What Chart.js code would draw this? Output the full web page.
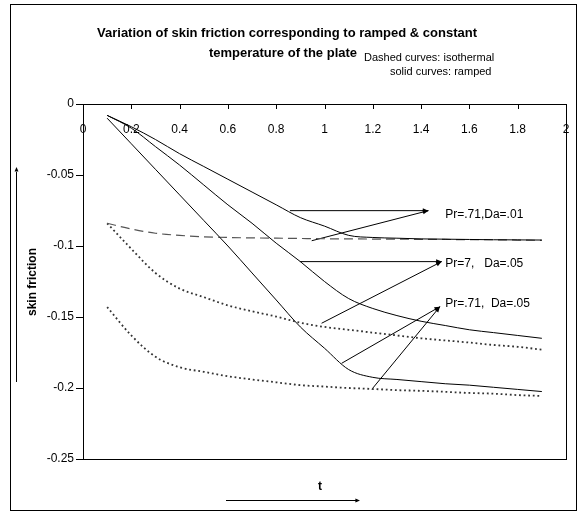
<!DOCTYPE html>
<html>
<head>
<meta charset="utf-8">
<title>Skin friction</title>
<script src="https://cdn.jsdelivr.net/npm/chart.js@4.4.1/dist/chart.umd.min.js"></script>
<style>
  body { margin: 0; background: #fff; }
</style>
</head>
<body>
<canvas id="frictionChart" width="581" height="512"></canvas>
<script>
// time values shared by every curve
const tValues = [0.1, 0.2, 0.3, 0.4, 0.5, 0.6, 0.7, 0.8, 0.9, 1.0,
                 1.1, 1.2, 1.3, 1.4, 1.5, 1.6, 1.7, 1.8, 1.9];

// ramped plate temperature (solid)
const rampedPr071Da01 = [-0.008, -0.016, -0.025, -0.035, -0.044, -0.053, -0.062, -0.071, -0.080, -0.086,
                         -0.0925, -0.094, -0.0945, -0.095, -0.0952, -0.0954, -0.0956, -0.0957, -0.0958];
const rampedPr7Da05 = [-0.008, -0.017, -0.030, -0.043, -0.057, -0.071, -0.084, -0.098, -0.111, -0.125,
                       -0.137, -0.144, -0.149, -0.153, -0.156, -0.159, -0.161, -0.163, -0.165];
const rampedPr071Da05 = [-0.010, -0.028, -0.046, -0.064, -0.082, -0.100, -0.119, -0.138, -0.157, -0.172,
                         -0.187, -0.1925, -0.194, -0.1955, -0.197, -0.198, -0.1995, -0.201, -0.2025];

// isothermal plate (dashed / dotted)
const isoPr071Da01 = [-0.084, -0.088, -0.091, -0.0925, -0.0935, -0.094, -0.0943, -0.0945, -0.0947, -0.0949,
                      -0.095, -0.0951, -0.0952, -0.0953, -0.0954, -0.0955, -0.0956, -0.0958, -0.096];
const isoPr7Da05 = [-0.084, -0.102, -0.119, -0.130, -0.136, -0.1418, -0.146, -0.1497, -0.154, -0.157,
                    -0.159, -0.161, -0.163, -0.165, -0.1665, -0.168, -0.1697, -0.171, -0.173];
const isoPr071Da05 = [-0.143, -0.163, -0.178, -0.1854, -0.1886, -0.1917, -0.194, -0.196, -0.198, -0.199,
                      -0.200, -0.2007, -0.2015, -0.202, -0.2027, -0.2035, -0.204, -0.205, -0.2056];

// axis ticks
const tTicks = [0, 0.2, 0.4, 0.6, 0.8, 1, 1.2, 1.4, 1.6, 1.8, 2];
const frictionTicks = [0, -0.05, -0.1, -0.15, -0.2, -0.25];

// curve labels: text and the point its left edge sits on (t, friction)
const curveLabels = ['Pr=.71,Da=.01', 'Pr=7,   Da=.05', 'Pr=.71,  Da=.05'];
const labelAnchors = [[1.5, -0.0782], [1.5, -0.1127], [1.5, -0.1404]];

// pointer lines from a curve to its label, [from, to]
const pointers = [
  [[0.857, -0.0751], [1.43, -0.0751]],
  [[0.947, -0.0963], [1.43, -0.0751]],
  [[0.898, -0.111], [1.485, -0.111]],
  [[0.988, -0.1544], [1.485, -0.111]],
  [[1.071, -0.1826], [1.478, -0.1427]],
  [[1.196, -0.2009], [1.478, -0.1427]]
];

const toPoints = vals => vals.map((v, i) => ({ x: tValues[i], y: v }));

function curve(vals, dash, color, width) {
  return {
    data: toPoints(vals),
    borderColor: color,
    borderWidth: width,
    borderDash: dash,
    pointRadius: 0,
    cubicInterpolationMode: 'monotone',
    fill: false
  };
}

const datasets = [
  curve(rampedPr071Da01, [], '#000', 1),
  curve(rampedPr7Da05, [], '#000', 1),
  curve(rampedPr071Da05, [], '#000', 1),
  curve(isoPr071Da01, [9, 5], '#555', 1.2),
  curve(isoPr7Da05, [1.8, 2.8], '#333', 1.8),
  curve(isoPr071Da05, [1.8, 2.8], '#333', 1.8)
];

pointers.forEach(p => {
  datasets.push({
    data: p.map(([x, y]) => ({ x, y })),
    borderColor: '#000',
    borderWidth: 1,
    pointRadius: 0,
    tension: 0,
    isPointer: true
  });
});

const FONT = "'Liberation Sans', Arial, sans-serif";

function arrowHead(ctx, x0, y0, x1, y1, size) {
  const ang = Math.atan2(y1 - y0, x1 - x0);
  ctx.beginPath();
  ctx.moveTo(x1, y1);
  ctx.lineTo(x1 - size * Math.cos(ang - 0.4), y1 - size * Math.sin(ang - 0.4));
  ctx.lineTo(x1 - size * Math.cos(ang + 0.4), y1 - size * Math.sin(ang + 0.4));
  ctx.closePath();
  ctx.fill();
}

// frame, t axis labels, arrows and all free text
const decor = {
  id: 'decor',
  afterDraw(chart) {
    const { ctx, chartArea: a, scales: { x, y } } = chart;
    ctx.save();
    ctx.strokeStyle = '#000';
    ctx.fillStyle = '#000';
    ctx.lineWidth = 1;

    // plot frame
    ctx.strokeRect(a.left + 0.5, a.top + 0.5, a.width, a.height);

    // t axis: tick marks hang down, labels sit just under them
    ctx.beginPath();
    x.ticks.forEach(t => {
      const px = Math.round(x.getPixelForValue(t.value)) + 0.5;
      ctx.moveTo(px, a.top);
      ctx.lineTo(px, a.top + 5);
    });
    ctx.stroke();
    ctx.font = '12px ' + FONT;
    ctx.textAlign = 'center';
    ctx.textBaseline = 'middle';
    x.ticks.forEach(t => {
      ctx.fillText(String(+t.value.toFixed(1)), x.getPixelForValue(t.value), a.top + 26);
    });

    // heads on pointer lines
    chart.data.datasets.forEach(ds => {
      if (!ds.isPointer) return;
      const [p0, p1] = ds.data;
      arrowHead(ctx, x.getPixelForValue(p0.x), y.getPixelForValue(p0.y),
        x.getPixelForValue(p1.x), y.getPixelForValue(p1.y), 6);
    });

    // curve labels
    ctx.textAlign = 'left';
    curveLabels.forEach((txt, i) => {
      const [t, f] = labelAnchors[i];
      ctx.fillText(txt, x.getPixelForValue(t), y.getPixelForValue(f));
    });

    // title
    ctx.textAlign = 'center';
    ctx.font = 'bold 13px ' + FONT;
    ctx.fillText('Variation of skin friction corresponding to ramped & constant', 287, 33);
    ctx.fillText('temperature of the plate', 283, 53);

    ctx.font = '11px ' + FONT;
    ctx.textAlign = 'left';
    ctx.fillText('Dashed curves: isothermal', 364, 58);
    ctx.fillText('solid curves: ramped', 390, 72);

    // axis titles with arrows
    ctx.font = 'bold 12px ' + FONT;
    ctx.textAlign = 'center';
    ctx.fillText('t', 320, 487);
    ctx.beginPath();
    ctx.moveTo(226, 500.5);
    ctx.lineTo(356, 500.5);
    ctx.stroke();
    arrowHead(ctx, 226, 500.5, 360, 500.5, 5);

    ctx.save();
    ctx.translate(33, 282);
    ctx.rotate(-Math.PI / 2);
    ctx.fillText('skin friction', 0, 0);
    ctx.restore();

    ctx.beginPath();
    ctx.moveTo(16.5, 382);
    ctx.lineTo(16.5, 172);
    ctx.stroke();
    arrowHead(ctx, 16.5, 382, 16.5, 167, 5);

    // outer frame
    ctx.strokeRect(10.5, 4.5, 566, 506);
    ctx.restore();
  }
};

new Chart(document.getElementById('frictionChart'), {
  type: 'line',
  data: { datasets },
  plugins: [decor],
  options: {
    responsive: false,
    animation: false,
    layout: { padding: { left: 0, top: 0, right: 15, bottom: 53 } },
    plugins: { legend: { display: false }, tooltip: { enabled: false } },
    scales: {
      x: {
        type: 'linear',
        position: 'top',
        min: 0,
        max: 2,
        afterBuildTicks: s => { s.ticks = tTicks.map(v => ({ value: v })); },
        afterFit: s => { s.height = 104; s.paddingLeft = 0; s.paddingRight = 0; },
        grid: { drawOnChartArea: false, drawTicks: false },
        border: { color: '#000', width: 1 },
        ticks: { display: false }
      },
      y: {
        type: 'linear',
        min: -0.25,
        max: 0,
        afterBuildTicks: s => { s.ticks = frictionTicks.map(v => ({ value: v })); },
        afterFit: s => { s.width = 83; s.paddingTop = 0; s.paddingBottom = 0; },
        grid: { drawOnChartArea: false, tickLength: 7, color: '#000' },
        border: { color: '#000', width: 1 },
        ticks: {
          color: '#000',
          font: { family: FONT, size: 12 },
          padding: 2,
          autoSkip: false,
          callback: v => String(+v.toFixed(2))
        }
      }
    }
  }
});
</script>
</body>
</html>
